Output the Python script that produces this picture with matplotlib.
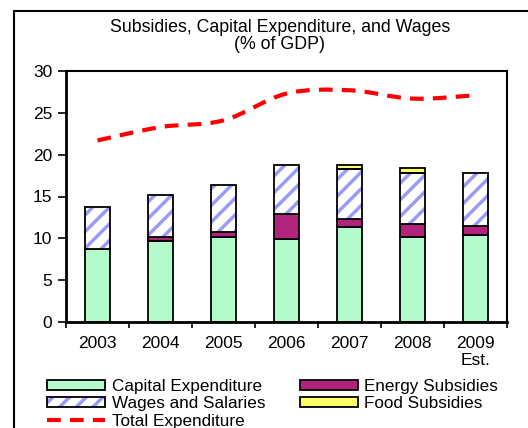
import numpy as np
import matplotlib
matplotlib.use("Agg")
import matplotlib.pyplot as plt
from matplotlib.patches import Patch, Rectangle, PathPatch
from matplotlib.path import Path
from matplotlib.lines import Line2D
from matplotlib.legend_handler import HandlerTuple

plt.rcParams['font.family'] = ['Liberation Sans', 'DejaVu Sans']
plt.rcParams['hatch.linewidth'] = 2.5

years = ['2003', '2004', '2005', '2006', '2007', '2008', '2009\nEst.']
capital_exp = [8.7, 9.7, 10.1, 9.9, 11.3, 10.1, 10.45]
energy_subs = [0.0, 0.4, 0.65, 3.0, 1.0, 1.6, 1.05]
wages = [5.1, 5.1, 5.65, 5.85, 6.0, 6.05, 6.25]
food_subs = [0.0, 0.0, 0.0, 0.0, 0.5, 0.6, 0.0]
total_exp = [21.7, 23.3, 24.1, 27.3, 27.7, 26.7, 27.1]

green = '#b3fbcb'
magenta = '#b2247c'
stripe = '#9c9cf8'
yellow = '#ffff66'
red = '#ff0000'
dash = (0, (3.3, 2.2))


def smooth_path(xs, ys):
    # Bezier segments through every point (Catmull-Rom style tangents)
    pts = np.column_stack([xs, ys]).astype(float)
    n = len(pts)
    verts = [pts[0]]
    codes = [Path.MOVETO]
    for i in range(n - 1):
        p0 = pts[max(i - 1, 0)]
        p1 = pts[i]
        p2 = pts[i + 1]
        p3 = pts[min(i + 2, n - 1)]
        verts += [p1 + (p2 - p0) / 6, p2 - (p3 - p1) / 6, p2]
        codes += [Path.CURVE4] * 3
    return Path(verts, codes)


fig = plt.figure(figsize=(5.28, 4.28), dpi=100)
ax = fig.add_axes([66 / 528, 1 - 322 / 428, (507 - 66) / 528, (322 - 71) / 428])

x = np.arange(len(years))
w = 0.41
lw = 1.3

capital_exp = np.array(capital_exp)
energy_subs = np.array(energy_subs)
wages = np.array(wages)
food_subs = np.array(food_subs)

ax.bar(x, capital_exp, w, color=green, edgecolor='black', linewidth=lw, zorder=2)
b1 = capital_exp
ax.bar(x, energy_subs, w, bottom=b1, color=magenta, edgecolor='black', linewidth=lw, zorder=2)
b2 = b1 + energy_subs
# hatch drawn first in blue, then a plain outline on top
ax.bar(x, wages, w, bottom=b2, color='white', edgecolor=stripe, hatch='//', linewidth=0, zorder=2)
ax.bar(x, wages, w, bottom=b2, fill=False, edgecolor='black', linewidth=lw, zorder=3)
b3 = b2 + wages
for i in range(len(years)):
    if food_subs[i] > 0:
        ax.bar(x[i], food_subs[i], w, bottom=b3[i], color=yellow, edgecolor='black', linewidth=lw, zorder=2)

ax.add_patch(PathPatch(smooth_path(x, total_exp), fill=False, edgecolor=red,
                       linewidth=3, linestyle=dash, capstyle='butt', zorder=4))

ax.set_xlim(-0.5, len(years) - 0.5)
ax.set_ylim(0, 30)
ax.set_yticks(range(0, 31, 5))
ax.set_xticks(x)
ax.set_xticklabels(years, fontsize=12.5)
ax.set_xticks(np.arange(-0.5, len(years)), minor=True)
ax.tick_params(axis='x', which='major', length=0, pad=10)
ax.tick_params(axis='x', which='minor', length=4, width=1.2, direction='out')
ax.tick_params(axis='y', length=6, width=1.2, pad=4, labelsize=12.5)
for s in ax.spines.values():
    s.set_linewidth(1.5)
ax.spines['left'].set_linewidth(2)
ax.spines['bottom'].set_linewidth(2)

fig.text(280 / 528, 1 - 36 / 428, 'Subsidies, Capital Expenditure, and Wages\n(% of GDP)',
         ha='center', va='center', fontsize=12.8, linespacing=1.05)

# outer frame
fig.patches.append(Rectangle((14 / 528, -0.1), 1.2, 1 - 11 / 428 + 0.1, transform=fig.transFigure,
                             fill=False, edgecolor='black', linewidth=1.5))

handles = [
    Patch(facecolor=green, edgecolor='black', linewidth=1.3),
    (Patch(facecolor='white', edgecolor=stripe, hatch='//', linewidth=0),
     Patch(fill=False, edgecolor='black', linewidth=1.3)),
    Line2D([], [], color=red, linewidth=3, dashes=(3.3, 2.2)),
    Patch(facecolor=magenta, edgecolor='black', linewidth=1.3),
    Patch(facecolor=yellow, edgecolor='black', linewidth=1.3),
]
labels = ['Capital Expenditure', 'Wages and Salaries', 'Total Expenditure',
          'Energy Subsidies', 'Food Subsidies']
fig.legend(handles, labels, loc='upper left', bbox_to_anchor=(47 / 528, 1 - 379 / 428),
           ncol=2, frameon=False, fontsize=12.3, handlelength=3.4, handleheight=0.5,
           handletextpad=0.4, columnspacing=2.0, labelspacing=0.14, borderpad=0,
           borderaxespad=0, handler_map={tuple: HandlerTuple(ndivide=1)})

fig.savefig('out.png', dpi=100)
